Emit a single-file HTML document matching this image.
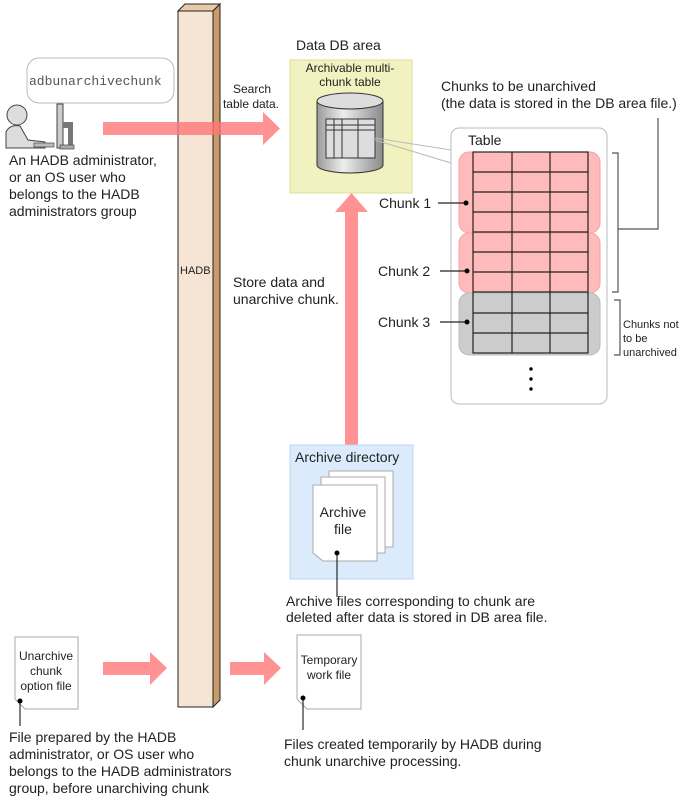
<!DOCTYPE html>
<html><head><meta charset="utf-8"><style>body{margin:0;background:#fff}svg{display:block;font-family:"Liberation Sans",sans-serif}</style></head><body>
<svg width="687" height="801" viewBox="0 0 687 801" xmlns="http://www.w3.org/2000/svg">
<defs><linearGradient id="cg" x1="0" x2="1"><stop offset="0" stop-color="#9a9a9a"/><stop offset=".4" stop-color="#eee"/><stop offset="1" stop-color="#8a8a8a"/></linearGradient></defs>
<!-- bubble -->
<rect x="27" y="58" width="147" height="45" rx="12" fill="#fff" stroke="#bbb"/>
<text x="29" y="85" font-family="Liberation Mono" font-size="13" fill="#555">adbunarchivechunk</text>
<!-- person -->
<circle cx="17" cy="115" r="10" fill="#ddd" stroke="#444"/>
<path d="M6 148 L6 132 Q10 124 20 126 L28 140 L45 142 L45 148 Z" fill="#ddd" stroke="#444"/>
<rect x="57" y="104" width="6" height="44" fill="#ccc" stroke="#444"/>
<rect x="63" y="122" width="10" height="6" fill="#777"/><rect x="68" y="126" width="5" height="20" fill="#777"/>
<rect x="34" y="143" width="20" height="4" fill="#bbb" stroke="#444" stroke-width=".7"/>
<rect x="60" y="145" width="14" height="4" fill="#aaa" stroke="#444" stroke-width=".7"/>
<g font-size="14" fill="#222"><text x="9" y="165">An HADB administrator,</text><text x="9" y="182">or an OS user who</text><text x="9" y="199">belongs to the HADB</text><text x="9" y="216">administrators group</text></g>
<!-- pillar -->
<polygon points="178,11 185,4 220,4 213,11" fill="#e8c9a8" stroke="#222"/>
<polygon points="213,11 220,4 220,700 213,707" fill="#c99a6a" stroke="#222"/>
<rect x="178" y="11" width="35" height="696" fill="#f6e4d4" stroke="#222"/>
<text x="180" y="274" font-size="11" fill="#222">HADB</text>
<!-- search arrow -->
<polygon points="103,122 263,122 263,112 280,128.5 263,145 263,135 103,135" fill="#f77" opacity=".8"/>
<g font-size="12" fill="#222" text-anchor="middle"><text x="252" y="93">Search</text><text x="251" y="108">table data.</text></g>
<!-- data db area -->
<text x="296" y="50" font-size="14" fill="#222">Data DB area</text>
<rect x="290" y="60" width="122" height="133" fill="#f2f2c0" stroke="#dede99"/>
<g font-size="12" fill="#222" text-anchor="middle"><text x="350" y="72">Archivable multi-</text><text x="350" y="86">chunk table</text></g>
<path d="M317 101 L317 165 A33 8 0 0 0 383 165 L383 101" fill="url(#cg)" stroke="#333"/>
<ellipse cx="350" cy="101" rx="33" ry="8" fill="#ddd" stroke="#333"/>
<rect x="326" y="119" width="49" height="39" fill="#ddd" stroke="#333"/>
<g stroke="#333" fill="none"><line x1="326" y1="125" x2="375" y2="125"/><line x1="326" y1="130" x2="375" y2="130"/><line x1="334" y1="119" x2="334" y2="158"/><line x1="342" y1="119" x2="342" y2="158"/><line x1="358" y1="119" x2="358" y2="158"/></g>
<polyline points="375,138 451,150" stroke="#bbb" fill="none"/><polyline points="375,140 451,163" stroke="#bbb" fill="none"/>
<!-- up arrow -->
<polygon points="345,445 345,212 335,212 351.5,193 368,212 358,212 358,445" fill="#f77" opacity=".8"/>
<g font-size="14" fill="#222"><text x="233" y="287">Store data and</text><text x="233" y="304">unarchive chunk.</text></g>
<!-- chunks text -->
<g font-size="14" fill="#222"><text x="441" y="91">Chunks to be unarchived</text><text x="441" y="108">(the data is stored in the DB area file.)</text></g>
<rect x="451" y="128" width="156" height="276" rx="8" fill="#fff" stroke="#bbb"/>
<text x="468" y="145" font-size="14" fill="#222">Table</text>
<rect x="459" y="152" width="141" height="81" rx="10" fill="#fbb" stroke="#f9a0a0"/>
<rect x="459" y="233" width="141" height="60" rx="10" fill="#fbb" stroke="#f9a0a0"/>
<rect x="459" y="293" width="141" height="62" rx="10" fill="#ccc" stroke="#bbb"/>
<g stroke="#222" stroke-width="1.2" fill="none">
<rect x="473" y="152" width="115" height="201"/>
<line x1="512" y1="152" x2="512" y2="353"/><line x1="550" y1="152" x2="550" y2="353"/>
<line x1="473" y1="172" x2="588" y2="172"/><line x1="473" y1="192" x2="588" y2="192"/><line x1="473" y1="212" x2="588" y2="212"/><line x1="473" y1="232" x2="588" y2="232"/><line x1="473" y1="252" x2="588" y2="252"/><line x1="473" y1="272" x2="588" y2="272"/><line x1="473" y1="292" x2="588" y2="292"/><line x1="473" y1="313" x2="588" y2="313"/><line x1="473" y1="333" x2="588" y2="333"/>
<line x1="438" y1="203" x2="466" y2="203"/><line x1="440" y1="271" x2="467" y2="271"/><line x1="440" y1="322" x2="467" y2="322"/>
</g>
<circle cx="466" cy="203" r="2.5" fill="#000"/><circle cx="467" cy="271" r="2.5" fill="#000"/><circle cx="467" cy="322" r="2.5" fill="#000"/>
<g font-size="14" fill="#222"><text x="379" y="208">Chunk 1</text><text x="378" y="276">Chunk 2</text><text x="378" y="327">Chunk 3</text></g>
<circle cx="531" cy="369" r="1.7" fill="#000"/><circle cx="531" cy="379" r="1.7" fill="#000"/><circle cx="531" cy="389" r="1.7" fill="#000"/>
<g stroke="#555" stroke-width="1.2" fill="none"><polyline points="612,153 618,153 618,292 612,292"/><polyline points="618,229 658,229 658,118"/><polyline points="614,300 620,300 620,355 614,355"/></g>
<g font-size="11" fill="#222"><text x="623" y="328">Chunks not</text><text x="623" y="342">to be</text><text x="623" y="356">unarchived</text></g>
<!-- archive dir -->
<rect x="290" y="445" width="123" height="134" fill="#dcebfc" stroke="#bcd6f2"/>
<text x="295" y="462" font-size="14" fill="#222">Archive directory</text>
<rect x="329" y="471" width="64" height="76" fill="#fff" stroke="#aaa"/>
<rect x="321" y="477" width="64" height="76" fill="#fff" stroke="#aaa"/>
<path d="M313 485 L377 485 L377 561 L323 561 L313 553 Z" fill="#fff" stroke="#aaa"/>
<g font-size="14" fill="#222" text-anchor="middle"><text x="343" y="517">Archive</text><text x="343" y="534">file</text></g>
<line x1="337" y1="553" x2="337" y2="597" stroke="#000"/><circle cx="337" cy="553" r="2.5" fill="#000"/>
<g font-size="14" fill="#222"><text x="286" y="606">Archive files corresponding to chunk are</text><text x="286" y="622">deleted after data is stored in DB area file.</text></g>
<!-- bottom -->
<path d="M15 637 L78 637 L78 709 L25 709 L15 699 Z" fill="#fff" stroke="#aaa"/>
<g font-size="12" fill="#222" text-anchor="middle"><text x="46" y="660">Unarchive</text><text x="46" y="675">chunk</text><text x="46" y="690">option file</text></g>
<line x1="20" y1="701" x2="20" y2="726" stroke="#000"/><circle cx="20" cy="701" r="2.5" fill="#000"/>
<polygon points="103,662 150,662 150,652 167,668 150,685 150,675 103,675" fill="#f77" opacity=".8"/>
<polygon points="230,662 264,662 264,652 281,668 264,685 264,675 230,675" fill="#f77" opacity=".8"/>
<path d="M297 635 L361 635 L361 709 L307 709 L297 699 Z" fill="#fff" stroke="#aaa"/>
<g font-size="12" fill="#222" text-anchor="middle"><text x="329" y="664">Temporary</text><text x="329" y="679">work file</text></g>
<line x1="303" y1="698" x2="303" y2="730" stroke="#000"/><circle cx="303" cy="698" r="2.5" fill="#000"/>
<g font-size="14" fill="#222"><text x="9" y="742">File prepared by the HADB</text><text x="9" y="759">administrator, or OS user who</text><text x="9" y="776">belongs to the HADB administrators</text><text x="9" y="793">group, before unarchiving chunk</text>
<text x="284" y="749">Files created temporarily by HADB during</text><text x="284" y="766">chunk unarchive processing.</text></g>
</svg>
</body></html>
